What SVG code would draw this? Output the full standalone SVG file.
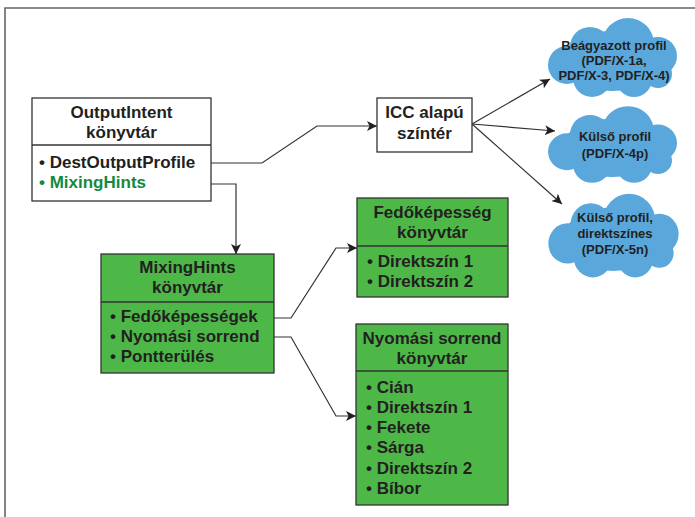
<svg xmlns="http://www.w3.org/2000/svg" xmlns:xlink="http://www.w3.org/1999/xlink" width="695" height="517" viewBox="0 0 695 517">
<style>
text{font-family:"Liberation Sans",Arial,sans-serif;font-weight:bold;fill:#231f20}
.t{font-size:17px;text-anchor:middle}
.i{font-size:17px}
.c{font-size:13px;text-anchor:middle}
.g{fill:#138a3e}
.wbox{fill:#fff;stroke:#333;stroke-width:1.3}
.gbox{fill:#4db848;stroke:#333;stroke-width:1.3}
.div{stroke:#333;stroke-width:1.3}
.con{fill:none;stroke:#333;stroke-width:1.2}
.frame{fill:none;stroke:#666;stroke-width:1.6}
</style>
<defs>
<marker id="ah" viewBox="0 0 10 10" refX="10" refY="5" markerWidth="10" markerHeight="10" markerUnits="userSpaceOnUse" orient="auto">
<path d="M0,0 L10,5 L0,10 L2.5,5 Z" fill="#231f20"/>
</marker>
<g id="cloud" fill="#5aa7dc">
<ellipse cx="0" cy="4" rx="50" ry="30"/>
<circle cx="16" cy="-13" r="26"/>
<circle cx="-22" cy="-10" r="20"/>
<circle cx="-45" cy="8" r="19"/>
<circle cx="46" cy="-1" r="19"/>
<circle cx="-20" cy="21" r="19"/>
<circle cx="22" cy="22" r="18"/>
<circle cx="46" cy="17" r="14"/>
</g>
</defs>
<rect width="695" height="517" fill="#fff"/>
<path class="frame" d="M5,517 V8 H695"/>

<g id="connectors">
<path class="con" d="M211,163 H262 L317,126 H377" marker-end="url(#ah)"/>
<path class="con" d="M211,184 H236 V254" marker-end="url(#ah)"/>
<path class="con" d="M472,124 L550,79" marker-end="url(#ah)"/>
<path class="con" d="M472,124 L555,131" marker-end="url(#ah)"/>
<path class="con" d="M472,124 L562,204" marker-end="url(#ah)"/>
<path class="con" d="M274,318 H291 L336,248 H357" marker-end="url(#ah)"/>
<path class="con" d="M274,337 H291 L336,416 H356" marker-end="url(#ah)"/>
</g>

<g id="outputintent">
<rect class="wbox" x="32" y="98" width="179" height="103"/>
<line class="div" x1="32" y1="145" x2="211" y2="145"/>
<text class="t" x="121.5" y="118">OutputIntent</text>
<text class="t" x="121.5" y="138">könyvtár</text>
<text class="i" x="39" y="168">• DestOutputProfile</text>
<text class="i g" x="39" y="188">• MixingHints</text>
</g>

<g id="icc">
<rect class="wbox" x="377" y="98" width="95" height="54"/>
<text class="t" x="424.5" y="118">ICC alapú</text>
<text class="t" x="424.5" y="139">színtér</text>
</g>

<g id="cloud1">
<use xlink:href="#cloud" transform="translate(612,57)"/>
<text class="c" x="614" y="50">Beágyazott profil</text>
<text class="c" x="614" y="65">(PDF/X-1a,</text>
<text class="c" x="614" y="80">PDF/X-3, PDF/X-4)</text>
</g>

<g id="cloud2">
<use xlink:href="#cloud" transform="translate(612,144) scale(1,0.97)"/>
<text class="c" x="615" y="141">Külső profil</text>
<text class="c" x="615" y="158">(PDF/X-4p)</text>
</g>

<g id="cloud3">
<use xlink:href="#cloud" transform="translate(613,235) scale(1.01,1.06)"/>
<text class="c" x="615" y="222">Külső profil,</text>
<text class="c" x="615" y="238">direktszínes</text>
<text class="c" x="615" y="254">(PDF/X-5n)</text>
</g>

<g id="mixinghints">
<rect class="gbox" x="101" y="254" width="173" height="119"/>
<line class="div" x1="101" y1="302" x2="274" y2="302"/>
<text class="t" x="187.5" y="273">MixingHints</text>
<text class="t" x="187.5" y="293">könyvtár</text>
<text class="i" x="110" y="322">• Fedőképességek</text>
<text class="i" x="110" y="342">• Nyomási sorrend</text>
<text class="i" x="110" y="362">• Pontterülés</text>
</g>

<g id="fedokepesseg">
<rect class="gbox" x="357" y="198" width="151" height="99"/>
<line class="div" x1="357" y1="246" x2="508" y2="246"/>
<text class="t" x="432.5" y="218">Fedőképesség</text>
<text class="t" x="432.5" y="238">könyvtár</text>
<text class="i" x="367" y="267">• Direktszín 1</text>
<text class="i" x="367" y="287">• Direktszín 2</text>
</g>

<g id="nyomasi">
<rect class="gbox" x="356" y="324" width="152" height="181"/>
<line class="div" x1="356" y1="371" x2="508" y2="371"/>
<text class="t" x="432" y="344">Nyomási sorrend</text>
<text class="t" x="432" y="364">könyvtár</text>
<text class="i" x="366" y="393">• Cián</text>
<text class="i" x="366" y="413">• Direktszín 1</text>
<text class="i" x="366" y="433">• Fekete</text>
<text class="i" x="366" y="453">• Sárga</text>
<text class="i" x="366" y="474">• Direktszín 2</text>
<text class="i" x="366" y="494">• Bíbor</text>
</g>
</svg>
